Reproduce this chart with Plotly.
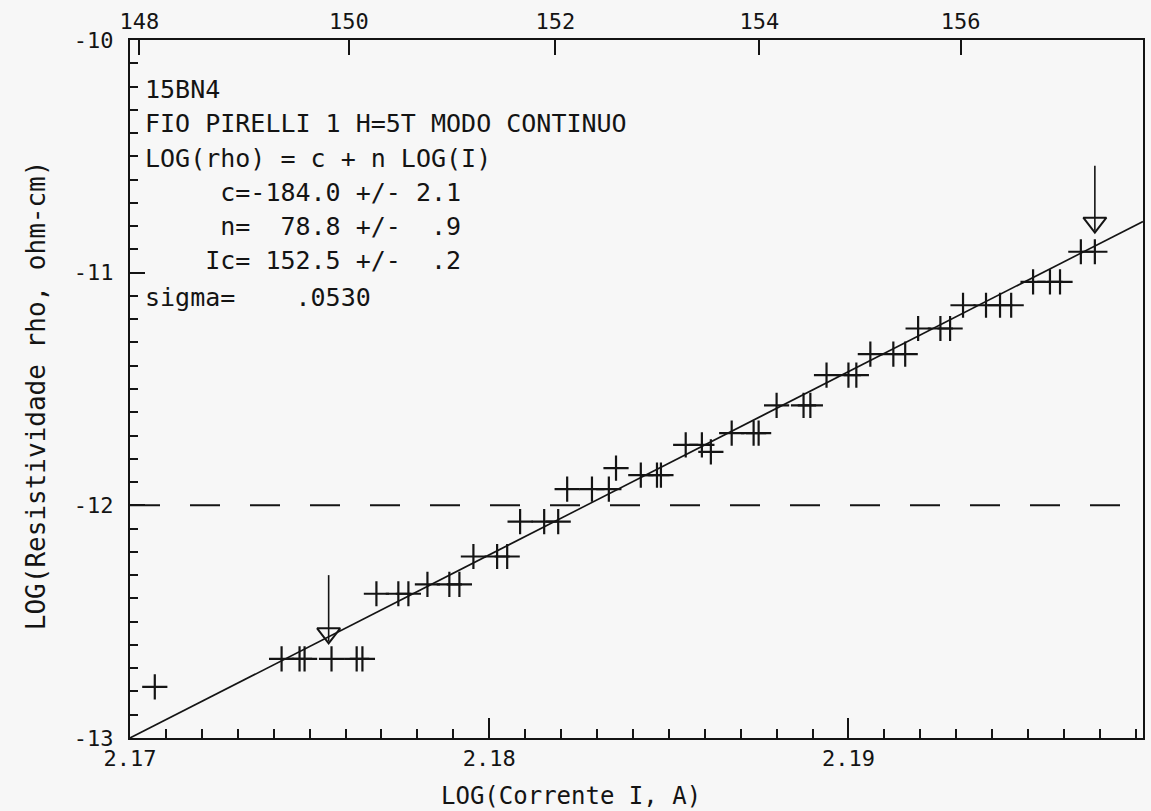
import numpy as np
import plotly.graph_objects as go

# ---- data ----
log_I = [2.17069,
         2.17422, 2.17472, 2.17486, 2.17561, 2.17631, 2.17647,
         2.17686, 2.17747, 2.17775,
         2.17828, 2.17889, 2.17917,
         2.17956, 2.18022, 2.18050,
         2.18086, 2.18153, 2.18192,
         2.18217, 2.18286, 2.18333,
         2.18353,
         2.18422, 2.18467, 2.18478,
         2.18547, 2.18592, 2.18617,
         2.18675, 2.18736, 2.18750,
         2.18800, 2.18875, 2.18894,
         2.18939, 2.19000, 2.19022,
         2.19061, 2.19125, 2.19158,
         2.19194, 2.19256, 2.19283,
         2.19319, 2.19383, 2.19422, 2.19453,
         2.19514, 2.19561, 2.19589,
         2.19647, 2.19686]
log_rho = [-12.78,
           -12.66, -12.66, -12.66, -12.66, -12.66, -12.66,
           -12.38, -12.38, -12.38,
           -12.34, -12.34, -12.34,
           -12.22, -12.22, -12.22,
           -12.07, -12.07, -12.07,
           -11.93, -11.93, -11.93,
           -11.84,
           -11.87, -11.87, -11.87,
           -11.74, -11.74, -11.77,
           -11.69, -11.69, -11.69,
           -11.57, -11.57, -11.57,
           -11.44, -11.44, -11.44,
           -11.35, -11.35, -11.35,
           -11.24, -11.24, -11.24,
           -11.14, -11.14, -11.14, -11.14,
           -11.04, -11.04, -11.04,
           -10.91, -10.91]

fit_logI = [2.1700, 2.1982]
fit_logrho = [-13.00, -10.78]

criterion_logrho = -12.0

arrow_logI = [2.17553, 2.19686]
arrow_top = [-12.30, -10.54]
arrow_tip = [-12.585, -10.82]
arrow_head = [-12.55, -10.785]

x_range = [2.17, 2.1982]
y_range = [-13, -10]
bottom_ticks = [2.17, 2.18, 2.19]
bottom_ticklabels = ["2.17", "2.18", "2.19"]
top_currents = [148, 150, 152, 154, 156]
left_ticks = [-13, -12, -11, -10]
left_ticklabels = ["-13", "-12", "-11", "-10"]

info_lines = ["15BN4",
              "FIO PIRELLI 1 H=5T MODO CONTINUO",
              "LOG(rho) = c + n LOG(I)",
              "     c=-184.0 +/- 2.1",
              "     n=  78.8 +/-  .9",
              "    Ic= 152.5 +/-  .2",
              "sigma=    .0530"]

INK = "#141414"
FONT = "DejaVu Sans Mono"

fig = go.Figure()

# criterion (dashed) line
fig.add_trace(go.Scatter(x=x_range, y=[criterion_logrho, criterion_logrho], mode="lines",
                         line=dict(color=INK, width=2, dash="30px,30px"),
                         hoverinfo="skip", showlegend=False))
# fit line
fig.add_trace(go.Scatter(x=fit_logI, y=fit_logrho, mode="lines",
                         line=dict(color=INK, width=1.6),
                         hoverinfo="skip", showlegend=False))
# data points
fig.add_trace(go.Scatter(x=log_I, y=log_rho, mode="markers",
                         marker=dict(symbol="cross-thin", size=18,
                                     line=dict(color=INK, width=2.2)),
                         showlegend=False))
# arrows
ax, ay = [], []
for xv, t, b in zip(arrow_logI, arrow_top, arrow_tip):
    ax += [xv, xv, None]
    ay += [t, b, None]
fig.add_trace(go.Scatter(x=ax, y=ay, mode="lines", line=dict(color=INK, width=1.6),
                         hoverinfo="skip", showlegend=False))
fig.add_trace(go.Scatter(x=arrow_logI, y=arrow_head, mode="markers",
                         marker=dict(symbol="triangle-down-open", size=20,
                                     color=INK, line=dict(color=INK, width=2)),
                         hoverinfo="skip", showlegend=False))
# invisible trace to activate the top (current) axis
fig.add_trace(go.Scatter(x=list(np.log10(top_currents)), y=[y_range[1]] * len(top_currents),
                         xaxis="x2", mode="markers", marker=dict(opacity=0),
                         hoverinfo="skip", showlegend=False))

# text block
L, R, T, B = 130, 1145, 40, 738
W, H = R - L, B - T
def px(x):
    return (x - L) / W
def py(y):
    return (B - y) / H

line_y = [90, 124, 158, 192, 226, 260, 297]
for txt, yy in zip(info_lines, line_y):
    fig.add_annotation(text=txt.replace(" ", "\u00a0"), xref="paper", yref="paper",
                       x=px(143), y=py(yy), xanchor="left", yanchor="middle",
                       showarrow=False, font=dict(family=FONT, size=25, color=INK))

fig.add_annotation(text="LOG(Corrente I, A)", xref="paper", yref="paper",
                   x=px(572), y=py(796), xanchor="center", yanchor="middle",
                   showarrow=False, font=dict(family=FONT, size=24, color=INK))
fig.add_annotation(text="LOG(Resistividade rho, ohm-cm)", xref="paper", yref="paper",
                   x=px(36), y=py(395), xanchor="center", yanchor="middle", textangle=-90,
                   showarrow=False, font=dict(family=FONT, size=26, color=INK))

tickfont = dict(family=FONT, size=22, color=INK)
fig.update_layout(
    width=1151, height=811,
    margin=dict(l=L, r=1151 - R, t=T, b=811 - B),
    paper_bgcolor="#f7f7f7", plot_bgcolor="#f7f7f7",
    hovermode=False,
    xaxis=dict(range=x_range, showline=True, linecolor=INK, linewidth=2,
               ticks="inside", ticklen=20, tickwidth=2, tickcolor=INK,
               tickmode="array", tickvals=bottom_ticks, ticktext=bottom_ticklabels,
               tickfont=tickfont, showgrid=False, zeroline=False,
               minor=dict(ticks="inside", ticklen=9, tickwidth=2, tickcolor=INK,
                          tick0=2.17, dtick=0.001, showgrid=False)),
    xaxis2=dict(range=x_range, overlaying="x", side="top", showline=True,
                linecolor=INK, linewidth=2, ticks="inside", ticklen=15, tickwidth=2,
                tickcolor=INK, tickmode="array", tickvals=list(np.log10(top_currents)),
                ticktext=[str(c) for c in top_currents], tickfont=tickfont,
                showgrid=False, zeroline=False),
    yaxis=dict(range=y_range, showline=True, mirror=True, linecolor=INK, linewidth=2,
               ticks="inside", ticklen=15, tickwidth=2, tickcolor=INK,
               tickmode="array", tickvals=left_ticks, ticktext=left_ticklabels,
               tickfont=tickfont, ticklabelstandoff=10, showgrid=False, zeroline=False,
               minor=dict(ticks="inside", ticklen=8, tickwidth=2, tickcolor=INK,
                          tick0=-13, dtick=0.1, showgrid=False)),
)

fig.write_html("out.html")
